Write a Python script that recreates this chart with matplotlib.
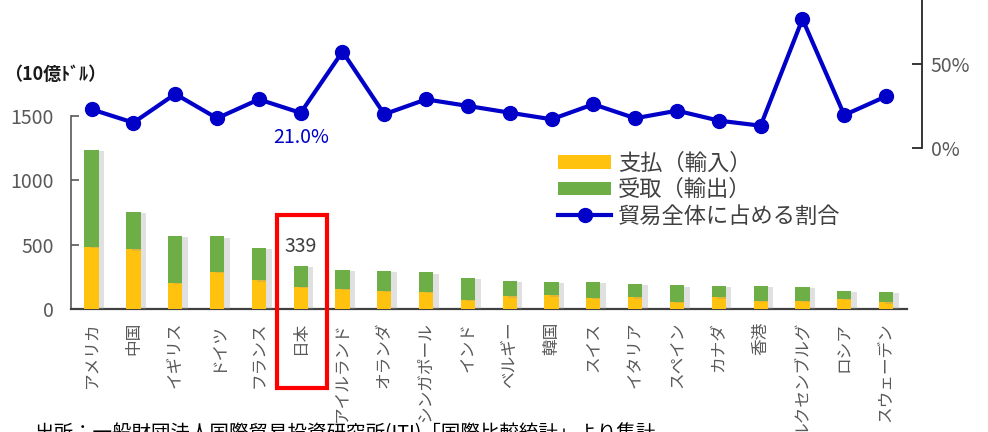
import matplotlib
matplotlib.use("Agg")
import matplotlib.pyplot as plt
import matplotlib.patheffects as pe
from matplotlib.patches import Rectangle, Patch
from matplotlib.lines import Line2D
import numpy as np

plt.rcParams['font.family'] = ['Noto Sans CJK JP', 'DejaVu Sans']

countries = ['アメリカ', '中国', 'イギリス', 'ドイツ', 'フランス', '日本', 'アイルランド',
             'オランダ', 'シンガポール', 'インド', 'ベルギー', '韓国', 'スイス', 'イタリア',
             'スペイン', 'カナダ', '香港', 'ルクセンブルグ', 'ロシア', 'スウェーデン']
total = [1240, 758, 570, 567, 476, 339, 305, 298, 287, 243, 220, 212, 212, 200,
         186, 181, 181, 173, 142, 134]
payments = [484, 466, 207, 292, 225, 173, 160, 142, 134, 72, 101, 109, 90, 92,
            59, 93, 67, 67, 82, 54]
share = [23.1, 15.2, 32.2, 17.8, 29.0, 21.0, 57.3, 20.2, 29.0, 25.1, 21.1, 17.2,
         26.1, 17.8, 22.3, 16.4, 13.4, 76.6, 19.7, 30.8]
receipts = [t - p for t, p in zip(total, payments)]

yellow = '#FFC20E'
green = '#6DAE46'
blue = '#0000C8'
gray = '#595959'

W, H = 988, 432
fig = plt.figure(figsize=(W / 100, H / 100), dpi=100)

# bar axes (left scale)
x0, x1 = 70.7, 907
y0, y1 = 309.3, 116
ax1 = fig.add_axes([x0 / W, 1 - y0 / H, (x1 - x0) / W, (y0 - y1) / H])
x = np.arange(len(countries))
shadow = [pe.SimplePatchShadow(offset=(4, -1), shadow_rgbFace='#999999', alpha=0.3), pe.Normal()]
b1 = ax1.bar(x, payments, width=0.34, color=yellow, zorder=3)
b2 = ax1.bar(x, receipts, bottom=payments, width=0.34, color=green, zorder=3)
for r in list(b1) + list(b2):
    r.set_path_effects(shadow)
ax1.set_xlim(-0.5, len(countries) - 0.5)
ax1.set_ylim(0, 1500)
ax1.set_yticks([0, 500, 1000, 1500])
ax1.set_xticks(x)
ax1.set_xticklabels(countries, rotation=90, fontsize=12, color=gray)
ax1.tick_params(axis='x', length=0, pad=9)
ax1.tick_params(axis='y', direction='in', length=6, width=1.2, color=gray,
                labelsize=14, labelcolor=gray, pad=12)
for s in ['top', 'right']:
    ax1.spines[s].set_visible(False)
ax1.spines['left'].set_color(gray)
ax1.spines['left'].set_linewidth(1.2)
ax1.spines['bottom'].set_color('#404040')
ax1.spines['bottom'].set_linewidth(1.6)
ax1.patch.set_alpha(0)

jp = countries.index('日本')
ax1.annotate(f'{total[jp]}', (jp, total[jp]), xytext=(0, 6), textcoords='offset points',
             ha='center', va='bottom', fontsize=14, color='#404040')
ax1.add_patch(Rectangle((jp - 0.57, -610), 1.19, 1340, fill=False, edgecolor='#FF0000',
                        linewidth=3, clip_on=False, zorder=5))

# line axes (right scale)
rx = 922.3
ry0 = 148.3
ax2 = fig.add_axes([x0 / W, 1 - ry0 / H, (rx - x0) / W, ry0 / H])
step = (x1 - x0) / len(countries)
ax2.set_xlim(-0.5, -0.5 + (rx - x0) / step)
ax2.set_ylim(0, ry0 / 1.687)
ax2.plot(x, share, color=blue, linewidth=3, marker='o', markersize=10, clip_on=False)
ax2.annotate(f'{share[jp]:.1f}%', (jp, share[jp]), xytext=(0, -10), textcoords='offset points',
             ha='center', va='top', fontsize=14, color=blue)
for s in ['top', 'left', 'bottom']:
    ax2.spines[s].set_visible(False)
ax2.spines['right'].set_color('#262626')
ax2.spines['right'].set_linewidth(1.3)
ax2.yaxis.tick_right()
ax2.set_yticks([0, 50])
ax2.set_yticklabels(['0%', '50%'])
ax2.set_xticks([])
ax2.tick_params(axis='y', direction='in', length=7, width=1.3, color='#262626',
                labelsize=14, labelcolor=gray, pad=6)
ax2.patch.set_alpha(0)

fig.text(4 / W, 1 - 74 / H, '（10億ﾄﾞﾙ）', fontsize=13, fontweight='bold',
         color='#1a1a1a', va='center')

handles = [Patch(facecolor=yellow), Patch(facecolor=green),
           Line2D([], [], color=blue, linewidth=3, marker='o', markersize=10)]
labels = ['支払（輸入）', '受取（輸出）', '貿易全体に占める割合']
fig.legend(handles, labels, loc='upper left', bbox_to_anchor=(558 / W, 1 - 152 / H),
           frameon=False, fontsize=16, labelcolor='#404040', handlelength=2.4,
           handleheight=0.55, handletextpad=0.3, labelspacing=0.15, borderpad=0,
           borderaxespad=0)

fig.text(35 / W, 1 - 423 / H, '出所：一般財団法人国際貿易投資研究所(ITI)「国際比較統計」より集計',
         fontsize=14, color='black', va='top')

fig.savefig('out.png', dpi=100)
